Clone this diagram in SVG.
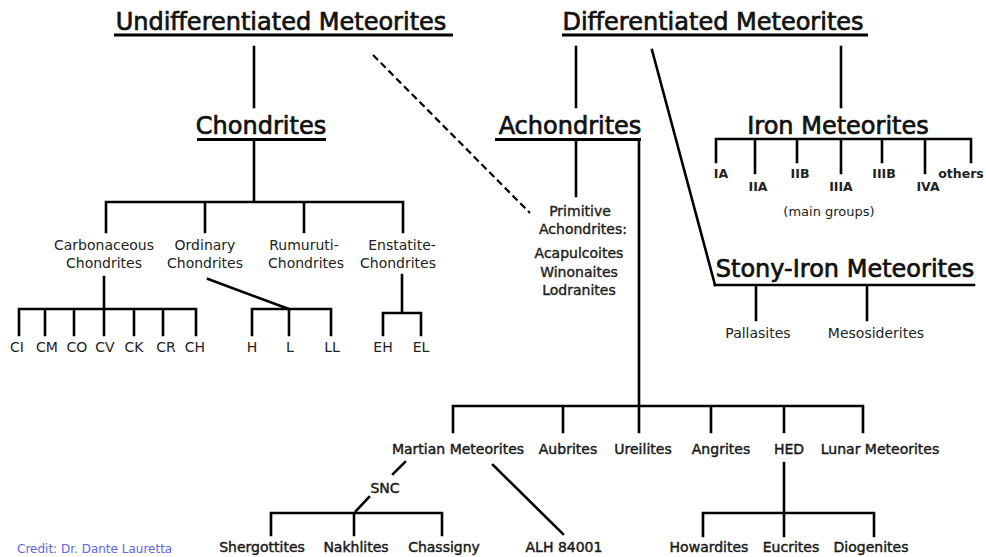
<svg xmlns="http://www.w3.org/2000/svg" width="986" height="557" viewBox="0 0 986 557">
<style>
text{font-family:"DejaVu Sans","Liberation Sans",sans-serif;fill:#111}
.h{font-size:24px;text-anchor:middle;stroke:#111;stroke-width:0.7}
.c{font-size:14px;text-anchor:middle;fill:#222}
.b{font-size:14px;text-anchor:middle;fill:#1a1a1a;stroke:#1a1a1a;stroke-width:0.45}
.p{font-size:14px;text-anchor:middle;fill:#222;stroke:#222;stroke-width:0.4}
.i{font-size:12.5px;font-weight:bold;text-anchor:middle;fill:#222}
.m{font-size:13px;text-anchor:middle;fill:#222}
.credit{font-size:12px;fill:#6464dc}
.ln{stroke:#000;stroke-width:2.6;fill:none;stroke-linecap:square}
.ul{stroke:#000;stroke-width:3;fill:none}
.dash{stroke:#000;stroke-width:2.2;fill:none;stroke-dasharray:7 4}
</style>
<rect width="986" height="557" fill="#fff"/>
<g id="connectors">
<line class="ln" x1="254" y1="47" x2="254" y2="107"/>
<line class="ln" x1="576" y1="47" x2="576" y2="107"/>
<line class="ln" x1="841" y1="47" x2="841" y2="107"/>
<line class="ln" x1="652" y1="50" x2="715" y2="285"/>
<line class="dash" x1="373" y1="55" x2="530" y2="213"/>
<path class="ln" d="M254 140V202M106 232V202H403V232M205 202V232M304 202V232"/>
<path class="ln" d="M104 277V309M19 335V309H196V335M45 309V335M74 309V335M104 309V335M134 309V335M163 309V335"/>
<line class="ln" x1="208" y1="279" x2="289" y2="309"/>
<path class="ln" d="M252 335V309H331V335M289 309V335"/>
<path class="ln" d="M402 275V313M383 335V313H421V335"/>
<path class="ln" d="M576 140V196M639 140V432"/>
<path class="ln" d="M716 162V139H971V162M755 139V173M797 139V162M841 139V173M882 139V162M925 139V173"/>
<path class="ln" d="M715 285H974M756 285V320M867 285V320"/>
<path class="ln" d="M453 432V406H863V432M563 406V432M711 406V432M784 406V432"/>
<line class="ln" x1="405" y1="462" x2="393" y2="474"/>
<line class="ln" x1="369" y1="497" x2="356" y2="511"/>
<path class="ln" d="M271 535V513H442V535M354 513V535"/>
<line class="ln" x1="493" y1="465" x2="563" y2="534"/>
<path class="ln" d="M784 463V513M703 536V513H874V536M784 513V536"/>
</g>
<g id="undifferentiated"><text class="h" x="281" y="30">Undifferentiated Meteorites</text><line class="ul" x1="114" y1="35" x2="453" y2="35"/></g>
<g id="differentiated"><text class="h" x="713" y="30">Differentiated Meteorites</text><line class="ul" x1="562" y1="35" x2="868" y2="35"/></g>
<g id="chondrites"><text class="h" x="261" y="134">Chondrites</text><line class="ul" x1="197" y1="139.5" x2="326" y2="139.5"/></g>
<g id="achondrites"><text class="h" x="570" y="134">Achondrites</text><line class="ul" x1="495" y1="139.5" x2="641" y2="139.5"/></g>
<g id="iron"><text class="h" x="838" y="134">Iron Meteorites</text></g>
<g id="stony-iron"><text class="h" x="845" y="277">Stony-Iron Meteorites</text></g>
<g id="carbonaceous"><text class="c" x="104" y="250">Carbonaceous</text><text class="c" x="104" y="268">Chondrites</text></g>
<g id="ordinary"><text class="c" x="205" y="250">Ordinary</text><text class="c" x="205" y="268">Chondrites</text></g>
<g id="rumuruti"><text class="c" x="304" y="250">Rumuruti-</text><text class="c" x="306" y="268">Chondrites</text></g>
<g id="enstatite"><text class="c" x="402" y="250">Enstatite-</text><text class="c" x="398" y="268">Chondrites</text></g>
<g id="carb-groups">
<text class="c" x="17" y="352">CI</text><text class="c" x="47" y="352">CM</text><text class="c" x="77" y="352">CO</text><text class="c" x="105" y="352">CV</text><text class="c" x="134" y="352">CK</text><text class="c" x="166" y="352">CR</text><text class="c" x="195" y="352">CH</text>
</g>
<g id="ord-groups"><text class="c" x="252" y="352">H</text><text class="c" x="290" y="352">L</text><text class="c" x="332" y="352">LL</text></g>
<g id="ens-groups"><text class="c" x="383" y="352">EH</text><text class="c" x="421" y="352">EL</text></g>
<g id="primitive">
<text class="p" x="580" y="216">Primitive</text><text class="p" x="583" y="234">Achondrites:</text>
<text class="p" x="579" y="258">Acapulcoites</text><text class="p" x="579" y="277">Winonaites</text><text class="p" x="579" y="295">Lodranites</text>
</g>
<g id="iron-groups">
<text class="i" x="721" y="178">IA</text><text class="i" x="758" y="191">IIA</text><text class="i" x="800" y="178">IIB</text><text class="i" x="841" y="191">IIIA</text><text class="i" x="884" y="178">IIIB</text><text class="i" x="928" y="191">IVA</text><text class="i" x="961" y="178">others</text>
<text class="m" x="829" y="216">(main groups)</text>
</g>
<g id="stony-groups"><text class="c" x="758" y="338">Pallasites</text><text class="c" x="876" y="338">Mesosiderites</text></g>
<g id="martian"><text class="b" x="458" y="454">Martian Meteorites</text></g>
<g id="aubrites"><text class="b" x="568" y="454">Aubrites</text></g>
<g id="ureilites"><text class="b" x="643" y="454">Ureilites</text></g>
<g id="angrites"><text class="b" x="721" y="454">Angrites</text></g>
<g id="hed"><text class="b" x="789" y="454">HED</text></g>
<g id="lunar"><text class="b" x="880" y="454">Lunar Meteorites</text></g>
<g id="snc"><text class="b" x="385" y="493">SNC</text></g>
<g id="snc-groups"><text class="b" x="262" y="552">Shergottites</text><text class="b" x="356" y="552">Nakhlites</text><text class="b" x="444" y="552">Chassigny</text></g>
<g id="alh"><text class="b" x="564" y="552">ALH 84001</text></g>
<g id="hed-groups"><text class="b" x="709" y="552">Howardites</text><text class="b" x="791" y="552">Eucrites</text><text class="b" x="871" y="552">Diogenites</text></g>
<text class="credit" x="17" y="553">Credit: Dr. Dante Lauretta</text>
</svg>
